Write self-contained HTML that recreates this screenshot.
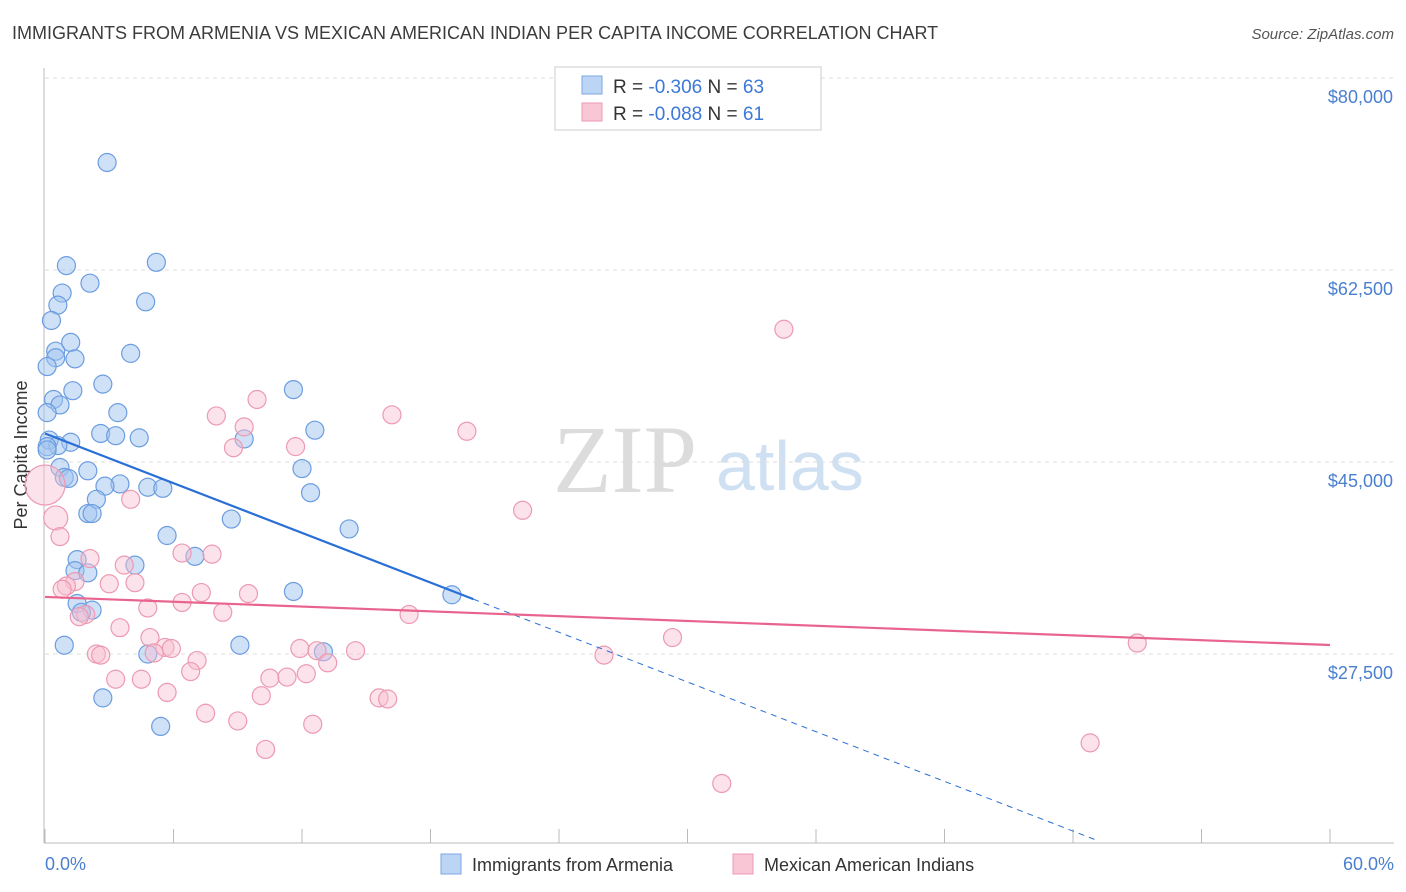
<!DOCTYPE html>
<html><head><meta charset="utf-8"><style>
body{margin:0;background:#fff;font-family:"Liberation Sans",sans-serif;}
svg{display:block}
</style></head><body>
<svg width="1406" height="892" id="c">
<text x="12" y="39" font-size="18" fill="#3c3c3c">IMMIGRANTS FROM ARMENIA VS MEXICAN AMERICAN INDIAN PER CAPITA INCOME CORRELATION CHART</text>
<text x="1394" y="39" font-size="15" fill="#555" text-anchor="end" font-style="italic">Source: ZipAtlas.com</text>
<g>
<text x="553" y="492" font-size="96" font-family="Liberation Serif,serif" fill="#dcdcdc">ZIP</text>
<text x="716" y="490" font-size="70" fill="#cfe0f3">atlas</text>
</g>
<g id="grid"></g>
<line x1="44" y1="68" x2="44" y2="843" stroke="#bbb"/>
<line x1="44" y1="843" x2="1394" y2="843" stroke="#bbb"/>
<text x="27" y="455" font-size="18" fill="#333" text-anchor="middle" transform="rotate(-90 27 455)">Per Capita Income</text>
<text x="45" y="870" font-size="18" fill="#4a7fd0">0.0%</text>
<text x="1394" y="870" font-size="18" fill="#4a7fd0" text-anchor="end">60.0%</text>
<g id="pts"></g>
<g id="trend"></g>
<g>
<rect x="555" y="67" width="266" height="63" fill="#fff" stroke="#ccc"/>
<rect x="582" y="76" width="20" height="18" fill="#bcd5f5" stroke="#7aa7e4"/>
<rect x="582" y="103" width="20" height="18" fill="#f9c6d5" stroke="#ec9ab2"/>
<text x="613" y="93" font-size="19" fill="#333">R = <tspan fill="#3b78d8">-0.306</tspan>   N = <tspan fill="#3b78d8">63</tspan></text>
<text x="613" y="120" font-size="19" fill="#333">R = <tspan fill="#3b78d8">-0.088</tspan>   N =  <tspan fill="#3b78d8">61</tspan></text>
</g>
<g>
<rect x="441" y="854" width="20" height="20" fill="#bcd5f5" stroke="#7aa7e4"/>
<text x="472" y="871" font-size="18" fill="#333">Immigrants from Armenia</text>
<rect x="733" y="854" width="20" height="20" fill="#f9c6d5" stroke="#ec9ab2"/>
<text x="764" y="871" font-size="18" fill="#333">Mexican American Indians</text>
</g>
</svg>
<script>
const yTicks=[80000,62500,45000,27500];
const yTickLabels=["$80,000","$62,500","$45,000","$27,500"];
const xTicks=[0,6,12,18,24,30,36,42,48,54,60];
const blueX=[2.9,5.2,1.0,2.1,0.8,4.7,0.6,0.3,4.0,0.5,1.2,0.5,1.4,0.1,2.7,1.3,11.6,0.4,0.7,3.4,0.1,12.6,2.6,3.3,4.4,9.3,0.2,1.2,0.6,0.1,12.0,2.0,0.7,0.9,1.1,3.5,2.8,4.8,5.5,12.4,2.4,2.0,2.2,8.7,14.2,5.7,7.0,1.5,4.2,1.4,2.0,11.6,19.0,1.5,2.2,1.7,0.9,9.1,4.8,13.0,2.7,5.4,0.1];
const blueY=[72.3,63.2,62.9,61.3,60.4,59.6,59.3,57.9,54.9,55.1,55.9,54.5,54.4,53.7,52.1,51.5,51.6,50.7,50.2,49.5,49.5,47.9,47.6,47.4,47.2,47.1,47.0,46.8,46.5,46.4,44.4,44.2,44.5,43.6,43.5,43.0,42.8,42.7,42.6,42.2,41.6,40.3,40.3,39.8,38.9,38.3,36.4,36.1,35.6,35.1,34.9,33.2,32.9,32.1,31.5,31.3,28.3,28.3,27.5,27.7,23.5,20.9,46.1];
const pinkX=[34.5,9.9,16.2,8.0,9.3,19.7,8.8,11.7,4.0,22.3,0.0,0.5,0.7,2.1,3.7,6.4,7.8,1.4,3.0,4.2,1.0,7.3,9.5,6.4,4.8,8.3,1.9,1.6,17.0,3.5,4.9,5.6,5.9,11.9,12.7,14.5,2.4,2.6,5.1,13.2,26.1,29.3,7.1,6.8,4.5,3.3,10.5,11.3,12.2,5.7,10.1,15.6,16.0,7.5,9.0,12.5,10.3,48.8,31.6,51.0,0.8];
const pinkY=[57.1,50.7,49.3,49.2,48.2,47.8,46.3,46.4,41.6,40.6,42.9,39.9,38.2,36.2,35.6,36.7,36.6,34.1,33.9,34.0,33.7,33.1,33.0,32.2,31.7,31.3,31.1,30.9,31.1,29.9,29.0,28.1,28.0,28.0,27.8,27.8,27.5,27.4,27.6,26.7,27.4,29.0,26.9,25.9,25.2,25.2,25.3,25.4,25.7,24.0,23.7,23.5,23.4,22.1,21.4,21.1,18.8,19.4,15.7,28.5,33.4];
const pinkR=[9,9,9,9,9,9,9,9,9,9,20,12,9,9,9,9,9,9,9,9,9,9,9,9,9,9,9,9,9,9,9,9,9,9,9,9,9,9,9,9,9,9,9,9,9,9,9,9,9,9,9,9,9,9,9,9,9,9,9,9,9];
const blueTrend=[47.6,-0.755]; const blueSolidEnd=20; const blueDashEnd=49;
const pinkTrend=[32.7,-0.073];
const NS="http://www.w3.org/2000/svg";
const xs=v=>45+v/60*1285;
const ys=v=>78+(80-v)/17.5*192;
function mk(t,a,p){const e=document.createElementNS(NS,t);for(const k in a)e.setAttribute(k,a[k]);p.appendChild(e);return e;}
const g=document.getElementById('grid');
yTicks.forEach((v,i)=>{const y=ys(v/1000);
const l=mk('line',{x1:45,x2:1394,y1:y,y2:y,stroke:'#ddd','stroke-dasharray':'4,4'},g);


const t=mk('text',{x:1393,y:y+25,'font-size':18,fill:'#4a7fd0','text-anchor':'end'},g);


t.textContent=yTickLabels[i];});
xTicks.forEach(v=>{const x=xs(v);
const l=mk('line',{x1:x,x2:x,y1:829,y2:843,stroke:'#bbb'},g);

});
const p=document.getElementById('pts');
blueX.forEach((v,i)=>{const c=mk('circle',{cx:xs(v),cy:ys(blueY[i]),r:9,fill:'rgba(160,196,240,0.5)',stroke:'#6c9de0','stroke-width':1.2},p);

});
pinkX.forEach((v,i)=>{const c=mk('circle',{cx:xs(v),cy:ys(pinkY[i]),r:pinkR[i],fill:'rgba(248,190,208,0.45)',stroke:'#ec9ab2','stroke-width':1.2},p);

});
const tr=document.getElementById('trend');
const bl=x=>blueTrend[0]+blueTrend[1]*x, pl=x=>pinkTrend[0]+pinkTrend[1]*x;
let a=mk('line',{x1:xs(0),y1:ys(bl(0)),x2:xs(blueSolidEnd),y2:ys(bl(blueSolidEnd)),stroke:'#2a6fd6','stroke-width':2.2},tr);


a=mk('line',{x1:xs(blueSolidEnd),y1:ys(bl(blueSolidEnd)),x2:xs(blueDashEnd),y2:ys(bl(blueDashEnd)),stroke:'#2a6fd6','stroke-width':1,'stroke-dasharray':'6,5'},tr);


a=mk('line',{x1:xs(0),y1:ys(pl(0)),x2:xs(60),y2:ys(pl(60)),stroke:'#e8648e','stroke-width':2.2},tr);


</script>
</body></html>
